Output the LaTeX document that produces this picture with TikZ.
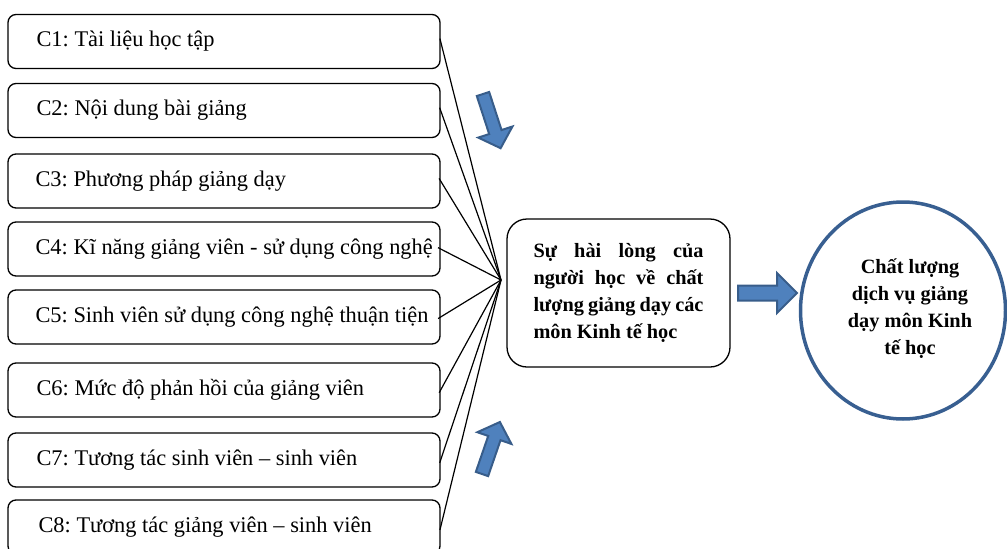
\documentclass[tikz,border=0pt]{standalone}
\usepackage{fontspec}
\setmainfont{Liberation Serif}
\usetikzlibrary{shapes.geometric}
\frenchspacing
\begin{document}
\begin{tikzpicture}[x=1pt,y=-1pt,
  cbox/.style={draw=black, line width=1.3pt, rounded corners=8pt, minimum width=432pt, minimum height=54pt, inner sep=0pt},
  ctext/.style={anchor=west, inner sep=0pt, font=\fontsize{22.4}{26}\selectfont},
  link/.style={draw=black, line width=1.2pt, shorten <=-3pt},
  blkfill/.style={fill={rgb,255:red,79;green,129;blue,189}, draw={rgb,255:red,56;green,93;blue,138}, line width=2pt, line join=miter},
  ringcol/.style={draw={rgb,255:red,56;green,95;blue,145}, line width=3.5pt},
  boldtext/.style={font=\bfseries\fontsize{20.3}{27}\selectfont}
]
\useasboundingbox (0,0) rectangle (1007,549);

% left boxes
\node[cbox] (c1) at (224,41.5) {};
\node[cbox] (c2) at (224,110.5) {};
\node[cbox] (c3) at (224,181) {};
\node[cbox] (c4) at (224,249) {};
\node[cbox] (c5) at (224,317) {};
\node[cbox] (c6) at (224,390) {};
\node[cbox] (c7) at (224,460) {};
\node[cbox] (c8) at (224,527) {};

\node[ctext] (t1) at ([xshift=29pt]c1.west) {C1: Tài liệu học tập};
\node[ctext] (t2) at ([xshift=29pt]c2.west) {C2: Nội dung bài giảng};
\node[ctext] (t3) at ([xshift=28pt]c3.west) {C3: Phương pháp giảng dạy};
\node[ctext] (t4) at ([xshift=28pt]c4.west) {C4: Kĩ năng giảng viên - sử dụng công nghệ};
\node[ctext] (t5) at ([xshift=28pt]c5.west) {C5: Sinh viên sử dụng công nghệ thuận tiện};
\node[ctext] (t6) at ([xshift=29pt]c6.west) {C6: Mức độ phản hồi của giảng viên};
\node[ctext] (t7) at ([xshift=29pt]c7.west) {C7: Tương tác sinh viên – sinh viên};
\node[ctext] (t8) at ([xshift=31pt]c8.west) {C8: Tương tác giảng viên – sinh viên};

% hub
\coordinate (hub) at (501,280);
\foreach \i in {1,...,8} { \path[link] (c\i.east) -- (hub); }

% center box
\node[draw=black, line width=1.3pt, rounded corners=20pt, minimum width=223pt, minimum height=148pt, inner sep=0pt,
      boldtext, align=left] (sat) at (618.5,293)
  {\makebox[170pt][s]{Sự hài lòng của}\\
   \makebox[170pt][s]{người học về chất}\\
   \makebox[170pt][s]{lượng giảng dạy các}\\
   \makebox[170pt][l]{môn Kinh tế học}};

% quality ellipse
\node[ringcol, ellipse, minimum width=205pt, minimum height=217pt, inner sep=0pt] (q) at (903,310.5) {};
\node[boldtext, align=center, inner sep=0pt] (qt) at (910,309)
  {Chất lượng\\dịch vụ giảng\\dạy môn Kinh\\tế học};

% block arrows
\path[blkfill] (738,285.5) -- (777,285.5) -- (777,273) -- (797,293) -- (777,313) -- (777,300.5) -- (738,300.5) -- cycle;
\begin{scope}[shift={(483,94)}, rotate=-72]
  \path[blkfill] (0,-6.5) -- (40,-6.5) -- (40,-18) -- (57,0) -- (40,18) -- (40,6.5) -- (0,6.5) -- cycle;
\end{scope}
\begin{scope}[shift={(482,474)}, rotate=71]
  \path[blkfill] (0,-6.5) -- (38,-6.5) -- (38,-18) -- (55,0) -- (38,18) -- (38,6.5) -- (0,6.5) -- cycle;
\end{scope}
\end{tikzpicture}
\end{document}
